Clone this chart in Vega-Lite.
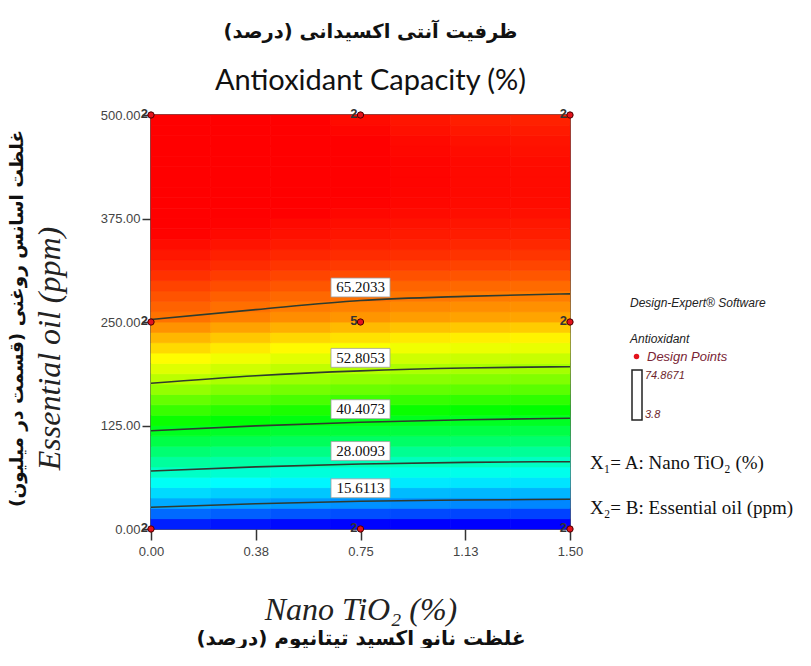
{
  "$schema": "https://vega.github.io/schema/vega-lite/v6.json",
  "width": 419,
  "height": 414,
  "padding": {"left": 6, "top": 21, "right": 0, "bottom": 0},
  "background": "white",
  "title": {
    "text": "ظرفیت آنتی اکسیدانی (درصد)",
    "subtitle": "Antioxidant Capacity (%)",
    "anchor": "middle",
    "frame": "group",
    "dx": 10,
    "font": "DejaVu Sans",
    "fontSize": 19.5,
    "fontWeight": "bold",
    "color": "#111",
    "subtitleFont": "Lato",
    "subtitleFontSize": 29,
    "subtitleColor": "#111",
    "subtitlePadding": 25,
    "offset": 11
  },
  "config": {"view": {"stroke": "#2a2a2a", "strokeWidth": 1.5}, "axis": {"grid": false}},
  "datasets": {
    "grid": [
      {"a":0.11,"b":6.25,"v":6.1},{"a":0.32,"b":6.25,"v":5.3},{"a":0.54,"b":6.25,"v":4.5},{"a":0.75,"b":6.25,"v":4.0},{"a":0.96,"b":6.25,"v":3.6},{"a":1.18,"b":6.25,"v":3.3},{"a":1.39,"b":6.25,"v":3.1},
      {"a":0.11,"b":18.75,"v":11.8},{"a":0.32,"b":18.75,"v":11.0},{"a":0.54,"b":18.75,"v":10.2},{"a":0.75,"b":18.75,"v":9.7},{"a":0.96,"b":18.75,"v":9.3},{"a":1.18,"b":18.75,"v":9.0},{"a":1.39,"b":18.75,"v":8.8},
      {"a":0.11,"b":31.25,"v":16.7},{"a":0.32,"b":31.25,"v":15.9},{"a":0.54,"b":31.25,"v":15.3},{"a":0.75,"b":31.25,"v":14.8},{"a":0.96,"b":31.25,"v":14.4},{"a":1.18,"b":31.25,"v":14.1},{"a":1.39,"b":31.25,"v":14.0},
      {"a":0.11,"b":43.75,"v":20.2},{"a":0.32,"b":43.75,"v":19.4},{"a":0.54,"b":43.75,"v":18.8},{"a":0.75,"b":43.75,"v":18.3},{"a":0.96,"b":43.75,"v":17.9},{"a":1.18,"b":43.75,"v":17.6},{"a":1.39,"b":43.75,"v":17.5},
      {"a":0.11,"b":56.25,"v":23.7},{"a":0.32,"b":56.25,"v":22.9},{"a":0.54,"b":56.25,"v":22.3},{"a":0.75,"b":56.25,"v":21.8},{"a":0.96,"b":56.25,"v":21.4},{"a":1.18,"b":56.25,"v":21.1},{"a":1.39,"b":56.25,"v":21.0},
      {"a":0.11,"b":68.75,"v":27.2},{"a":0.32,"b":68.75,"v":26.4},{"a":0.54,"b":68.75,"v":25.7},{"a":0.75,"b":68.75,"v":25.2},{"a":0.96,"b":68.75,"v":24.8},{"a":1.18,"b":68.75,"v":24.5},{"a":1.39,"b":68.75,"v":24.4},
      {"a":0.11,"b":81.25,"v":30.3},{"a":0.32,"b":81.25,"v":29.6},{"a":0.54,"b":81.25,"v":28.9},{"a":0.75,"b":81.25,"v":28.3},{"a":0.96,"b":81.25,"v":27.9},{"a":1.18,"b":81.25,"v":27.7},{"a":1.39,"b":81.25,"v":27.5},
      {"a":0.11,"b":93.75,"v":33.5},{"a":0.32,"b":93.75,"v":32.7},{"a":0.54,"b":93.75,"v":32.1},{"a":0.75,"b":93.75,"v":31.5},{"a":0.96,"b":93.75,"v":31.1},{"a":1.18,"b":93.75,"v":30.8},{"a":1.39,"b":93.75,"v":30.7},
      {"a":0.11,"b":106.25,"v":36.7},{"a":0.32,"b":106.25,"v":36.0},{"a":0.54,"b":106.25,"v":35.3},{"a":0.75,"b":106.25,"v":34.7},{"a":0.96,"b":106.25,"v":34.3},{"a":1.18,"b":106.25,"v":34.1},{"a":1.39,"b":106.25,"v":33.9},
      {"a":0.11,"b":118.75,"v":39.8},{"a":0.32,"b":118.75,"v":39.0},{"a":0.54,"b":118.75,"v":38.2},{"a":0.75,"b":118.75,"v":37.7},{"a":0.96,"b":118.75,"v":37.3},{"a":1.18,"b":118.75,"v":37.0},{"a":1.39,"b":118.75,"v":36.8},
      {"a":0.11,"b":131.25,"v":42.6},{"a":0.32,"b":131.25,"v":41.7},{"a":0.54,"b":131.25,"v":40.9},{"a":0.75,"b":131.25,"v":40.3},{"a":0.96,"b":131.25,"v":39.8},{"a":1.18,"b":131.25,"v":39.5},{"a":1.39,"b":131.25,"v":39.3},
      {"a":0.11,"b":143.75,"v":45.3},{"a":0.32,"b":143.75,"v":44.4},{"a":0.54,"b":143.75,"v":43.6},{"a":0.75,"b":143.75,"v":43.0},{"a":0.96,"b":143.75,"v":42.5},{"a":1.18,"b":143.75,"v":42.2},{"a":1.39,"b":143.75,"v":42.0},
      {"a":0.11,"b":156.25,"v":48.0},{"a":0.32,"b":156.25,"v":47.1},{"a":0.54,"b":156.25,"v":46.3},{"a":0.75,"b":156.25,"v":45.7},{"a":0.96,"b":156.25,"v":45.2},{"a":1.18,"b":156.25,"v":44.9},{"a":1.39,"b":156.25,"v":44.7},
      {"a":0.11,"b":168.75,"v":50.7},{"a":0.32,"b":168.75,"v":49.7},{"a":0.54,"b":168.75,"v":48.9},{"a":0.75,"b":168.75,"v":48.3},{"a":0.96,"b":168.75,"v":47.8},{"a":1.18,"b":168.75,"v":47.5},{"a":1.39,"b":168.75,"v":47.3},
      {"a":0.11,"b":181.25,"v":53.0},{"a":0.32,"b":181.25,"v":52.1},{"a":0.54,"b":181.25,"v":51.2},{"a":0.75,"b":181.25,"v":50.6},{"a":0.96,"b":181.25,"v":50.1},{"a":1.18,"b":181.25,"v":49.8},{"a":1.39,"b":181.25,"v":49.6},
      {"a":0.11,"b":193.75,"v":55.1},{"a":0.32,"b":193.75,"v":54.2},{"a":0.54,"b":193.75,"v":53.3},{"a":0.75,"b":193.75,"v":52.7},{"a":0.96,"b":193.75,"v":52.2},{"a":1.18,"b":193.75,"v":51.9},{"a":1.39,"b":193.75,"v":51.7},
      {"a":0.11,"b":206.25,"v":57.1},{"a":0.32,"b":206.25,"v":56.2},{"a":0.54,"b":206.25,"v":55.3},{"a":0.75,"b":206.25,"v":54.7},{"a":0.96,"b":206.25,"v":54.2},{"a":1.18,"b":206.25,"v":53.9},{"a":1.39,"b":206.25,"v":53.7},
      {"a":0.11,"b":218.75,"v":59.1},{"a":0.32,"b":218.75,"v":58.2},{"a":0.54,"b":218.75,"v":57.3},{"a":0.75,"b":218.75,"v":56.7},{"a":0.96,"b":218.75,"v":56.2},{"a":1.18,"b":218.75,"v":55.9},{"a":1.39,"b":218.75,"v":55.7},
      {"a":0.11,"b":231.25,"v":61.1},{"a":0.32,"b":231.25,"v":60.2},{"a":0.54,"b":231.25,"v":59.3},{"a":0.75,"b":231.25,"v":58.7},{"a":0.96,"b":231.25,"v":58.2},{"a":1.18,"b":231.25,"v":57.9},{"a":1.39,"b":231.25,"v":57.7},
      {"a":0.11,"b":243.75,"v":63.2},{"a":0.32,"b":243.75,"v":62.3},{"a":0.54,"b":243.75,"v":61.5},{"a":0.75,"b":243.75,"v":60.9},{"a":0.96,"b":243.75,"v":60.4},{"a":1.18,"b":243.75,"v":60.1},{"a":1.39,"b":243.75,"v":59.9},
      {"a":0.11,"b":256.25,"v":65.0},{"a":0.32,"b":256.25,"v":64.2},{"a":0.54,"b":256.25,"v":63.5},{"a":0.75,"b":256.25,"v":63.0},{"a":0.96,"b":256.25,"v":62.6},{"a":1.18,"b":256.25,"v":62.3},{"a":1.39,"b":256.25,"v":62.2},
      {"a":0.11,"b":268.75,"v":65.9},{"a":0.32,"b":268.75,"v":65.2},{"a":0.54,"b":268.75,"v":64.5},{"a":0.75,"b":268.75,"v":64.1},{"a":0.96,"b":268.75,"v":63.7},{"a":1.18,"b":268.75,"v":63.4},{"a":1.39,"b":268.75,"v":63.3},
      {"a":0.11,"b":281.25,"v":66.8},{"a":0.32,"b":281.25,"v":66.1},{"a":0.54,"b":281.25,"v":65.6},{"a":0.75,"b":281.25,"v":65.1},{"a":0.96,"b":281.25,"v":64.8},{"a":1.18,"b":281.25,"v":64.5},{"a":1.39,"b":281.25,"v":64.4},
      {"a":0.11,"b":293.75,"v":67.7},{"a":0.32,"b":293.75,"v":67.1},{"a":0.54,"b":293.75,"v":66.6},{"a":0.75,"b":293.75,"v":66.2},{"a":0.96,"b":293.75,"v":65.8},{"a":1.18,"b":293.75,"v":65.6},{"a":1.39,"b":293.75,"v":65.5},
      {"a":0.11,"b":306.25,"v":68.7},{"a":0.32,"b":306.25,"v":68.1},{"a":0.54,"b":306.25,"v":67.6},{"a":0.75,"b":306.25,"v":67.2},{"a":0.96,"b":306.25,"v":66.9},{"a":1.18,"b":306.25,"v":66.7},{"a":1.39,"b":306.25,"v":66.6},
      {"a":0.11,"b":318.75,"v":69.5},{"a":0.32,"b":318.75,"v":69.0},{"a":0.54,"b":318.75,"v":68.5},{"a":0.75,"b":318.75,"v":68.2},{"a":0.96,"b":318.75,"v":67.9},{"a":1.18,"b":318.75,"v":67.7},{"a":1.39,"b":318.75,"v":67.6},
      {"a":0.11,"b":331.25,"v":70.2},{"a":0.32,"b":331.25,"v":69.7},{"a":0.54,"b":331.25,"v":69.3},{"a":0.75,"b":331.25,"v":69.0},{"a":0.96,"b":331.25,"v":68.8},{"a":1.18,"b":331.25,"v":68.6},{"a":1.39,"b":331.25,"v":68.5},
      {"a":0.11,"b":343.75,"v":70.8},{"a":0.32,"b":343.75,"v":70.4},{"a":0.54,"b":343.75,"v":70.0},{"a":0.75,"b":343.75,"v":69.7},{"a":0.96,"b":343.75,"v":69.5},{"a":1.18,"b":343.75,"v":69.3},{"a":1.39,"b":343.75,"v":69.2},
      {"a":0.11,"b":356.25,"v":71.4},{"a":0.32,"b":356.25,"v":71.0},{"a":0.54,"b":356.25,"v":70.6},{"a":0.75,"b":356.25,"v":70.3},{"a":0.96,"b":356.25,"v":70.0},{"a":1.18,"b":356.25,"v":69.9},{"a":1.39,"b":356.25,"v":69.8},
      {"a":0.11,"b":368.75,"v":71.9},{"a":0.32,"b":368.75,"v":71.4},{"a":0.54,"b":368.75,"v":71.0},{"a":0.75,"b":368.75,"v":70.7},{"a":0.96,"b":368.75,"v":70.5},{"a":1.18,"b":368.75,"v":70.3},{"a":1.39,"b":368.75,"v":70.2},
      {"a":0.11,"b":381.25,"v":72.4},{"a":0.32,"b":381.25,"v":71.9},{"a":0.54,"b":381.25,"v":71.5},{"a":0.75,"b":381.25,"v":71.1},{"a":0.96,"b":381.25,"v":70.9},{"a":1.18,"b":381.25,"v":70.7},{"a":1.39,"b":381.25,"v":70.6},
      {"a":0.11,"b":393.75,"v":72.8},{"a":0.32,"b":393.75,"v":72.2},{"a":0.54,"b":393.75,"v":71.7},{"a":0.75,"b":393.75,"v":71.4},{"a":0.96,"b":393.75,"v":71.1},{"a":1.18,"b":393.75,"v":70.9},{"a":1.39,"b":393.75,"v":70.8},
      {"a":0.11,"b":406.25,"v":73.1},{"a":0.32,"b":406.25,"v":72.5},{"a":0.54,"b":406.25,"v":72.0},{"a":0.75,"b":406.25,"v":71.6},{"a":0.96,"b":406.25,"v":71.2},{"a":1.18,"b":406.25,"v":71.0},{"a":1.39,"b":406.25,"v":70.9},
      {"a":0.11,"b":418.75,"v":73.4},{"a":0.32,"b":418.75,"v":72.7},{"a":0.54,"b":418.75,"v":72.1},{"a":0.75,"b":418.75,"v":71.6},{"a":0.96,"b":418.75,"v":71.3},{"a":1.18,"b":418.75,"v":71.0},{"a":1.39,"b":418.75,"v":70.9},
      {"a":0.11,"b":431.25,"v":73.7},{"a":0.32,"b":431.25,"v":72.9},{"a":0.54,"b":431.25,"v":72.2},{"a":0.75,"b":431.25,"v":71.7},{"a":0.96,"b":431.25,"v":71.3},{"a":1.18,"b":431.25,"v":71.0},{"a":1.39,"b":431.25,"v":70.9},
      {"a":0.11,"b":443.75,"v":73.8},{"a":0.32,"b":443.75,"v":73.0},{"a":0.54,"b":443.75,"v":72.2},{"a":0.75,"b":443.75,"v":71.7},{"a":0.96,"b":443.75,"v":71.3},{"a":1.18,"b":443.75,"v":71.0},{"a":1.39,"b":443.75,"v":70.8},
      {"a":0.11,"b":456.25,"v":74.0},{"a":0.32,"b":456.25,"v":73.0},{"a":0.54,"b":456.25,"v":72.2},{"a":0.75,"b":456.25,"v":71.6},{"a":0.96,"b":456.25,"v":71.1},{"a":1.18,"b":456.25,"v":70.8},{"a":1.39,"b":456.25,"v":70.6},
      {"a":0.11,"b":468.75,"v":74.1},{"a":0.32,"b":468.75,"v":73.1},{"a":0.54,"b":468.75,"v":72.2},{"a":0.75,"b":468.75,"v":71.5},{"a":0.96,"b":468.75,"v":71.0},{"a":1.18,"b":468.75,"v":70.6},{"a":1.39,"b":468.75,"v":70.4},
      {"a":0.11,"b":481.25,"v":74.1},{"a":0.32,"b":481.25,"v":73.0},{"a":0.54,"b":481.25,"v":72.0},{"a":0.75,"b":481.25,"v":71.2},{"a":0.96,"b":481.25,"v":70.6},{"a":1.18,"b":481.25,"v":70.2},{"a":1.39,"b":481.25,"v":70.0},
      {"a":0.11,"b":493.75,"v":74.2},{"a":0.32,"b":493.75,"v":72.9},{"a":0.54,"b":493.75,"v":71.8},{"a":0.75,"b":493.75,"v":70.9},{"a":0.96,"b":493.75,"v":70.3},{"a":1.18,"b":493.75,"v":69.8},{"a":1.39,"b":493.75,"v":69.6}
    ],
    "contours": [
      {"level":65.2033,"a":0,"b":253},{"level":65.2033,"a":0.375,"b":265},{"level":65.2033,"a":0.75,"b":276},{"level":65.2033,"a":1.125,"b":281},{"level":65.2033,"a":1.5,"b":284},
      {"level":52.8053,"a":0,"b":176},{"level":52.8053,"a":0.375,"b":185},{"level":52.8053,"a":0.75,"b":191},{"level":52.8053,"a":1.125,"b":194.5},{"level":52.8053,"a":1.5,"b":196},
      {"level":40.4073,"a":0,"b":118.7},{"level":40.4073,"a":0.375,"b":124.5},{"level":40.4073,"a":0.75,"b":129},{"level":40.4073,"a":1.125,"b":132},{"level":40.4073,"a":1.5,"b":133.7},
      {"level":28.0093,"a":0,"b":70},{"level":28.0093,"a":0.375,"b":75},{"level":28.0093,"a":0.75,"b":78.5},{"level":28.0093,"a":1.125,"b":80.5},{"level":28.0093,"a":1.5,"b":81.3},
      {"level":15.6113,"a":0,"b":26.2},{"level":15.6113,"a":0.375,"b":30.5},{"level":15.6113,"a":0.75,"b":33.5},{"level":15.6113,"a":1.125,"b":35},{"level":15.6113,"a":1.5,"b":35.9}
    ],
    "points": [
      {"a":0,"b":0,"n":2},{"a":0.75,"b":0,"n":2},{"a":1.5,"b":0,"n":2},
      {"a":0,"b":250,"n":2},{"a":0.75,"b":250,"n":5},{"a":1.5,"b":250,"n":2},
      {"a":0,"b":500,"n":2},{"a":0.75,"b":500,"n":2},{"a":1.5,"b":500,"n":2}
    ],
    "factors": [
      {"factor":"X₁= A: Nano TiO₂ (%)"},
      {"factor":"X₂= B: Essential oil (ppm)"}
    ]
  },
  "layer": [
    {
      "data": {"name": "grid"},
      "mark": {"type": "rect", "strokeWidth": 0.8},
      "encoding": {
        "x": {"field": "a", "type": "ordinal", "scale": {"paddingInner": 0, "paddingOuter": 0},
          "axis": {"orient": "bottom", "labels": false, "ticks": false, "domain": false,
            "title": "غلظت نانو اکسید تیتانیوم (درصد)", "titleFont": "DejaVu Sans", "titleFontSize": 20,
            "titleFontWeight": "bold", "titleColor": "#111", "titleY": 109, "titleBaseline": "middle"}},
        "y": {"field": "b", "type": "ordinal", "sort": "descending", "scale": {"paddingInner": 0, "paddingOuter": 0},
          "axis": {"orient": "left", "labels": false, "ticks": false, "domain": false,
            "title": "غلظت اسانس روغنی (قسمت در میلیون)", "titleFont": "DejaVu Sans", "titleFontSize": 18.5,
            "titleFontWeight": "bold", "titleColor": "#111", "titleX": -135, "titleY": 203,
            "titleBaseline": "middle", "titleAngle": -90}},
        "color": {"field": "v", "type": "quantitative",
          "scale": {"domain": [3.8, 23, 42, 57, 71.5, 74.8671],
            "range": ["#0000ff", "#00ffff", "#00ff00", "#ffff00", "#ff0000", "#ff0000"],
            "clamp": true, "interpolate": "rgb"},
          "legend": null},
        "stroke": {"field": "v", "type": "quantitative",
          "scale": {"domain": [3.8, 23, 42, 57, 71.5, 74.8671],
            "range": ["#0000ff", "#00ffff", "#00ff00", "#ffff00", "#ff0000", "#ff0000"],
            "clamp": true, "interpolate": "rgb"},
          "legend": null}
      }
    },
    {
      "layer": [
        {
          "data": {"name": "contours"},
          "mark": {"type": "line", "interpolate": "monotone", "color": "#2f3b2f", "strokeWidth": 1.6},
          "encoding": {
            "x": {"field": "a", "type": "quantitative", "scale": {"domain": [0, 1.5], "nice": false, "zero": false},
              "axis": {"orient": "bottom", "values": [0, 0.375, 0.75, 1.125, 1.5], "format": ".2f", "domain": false,
                "tickSize": 11, "tickColor": "#333", "tickWidth": 1.5, "labelFont": "Liberation Sans", "labelFontSize": 13,
                "labelColor": "#444", "labelPadding": 5, "labelFlush": false,
                "title": "Nano TiO₂ (%)", "titleFont": "Liberation Serif", "titleFontStyle": "italic",
                "titleFontWeight": "normal", "titleFontSize": 32, "titleColor": "#222", "titleY": 80, "titleBaseline": "middle"}},
            "y": {"field": "b", "type": "quantitative", "scale": {"domain": [0, 500], "nice": false},
              "axis": {"orient": "left", "values": [0, 125, 250, 375, 500], "format": ".2f", "domain": false,
                "tickSize": 9, "tickColor": "#333", "tickWidth": 1.5, "labelFont": "Liberation Sans", "labelFontSize": 13,
                "labelColor": "#444", "labelPadding": 2, "labelFlush": false,
                "title": "Essential oil (ppm)", "titleFont": "Liberation Serif", "titleFontStyle": "italic",
                "titleFontWeight": "normal", "titleFontSize": 32, "titleColor": "#222", "titleX": -102, "titleY": 233,
                "titleBaseline": "middle", "titleAngle": -90}},
            "detail": {"field": "level", "type": "nominal"}
          }
        },
        {
          "data": {"name": "contours"},
          "transform": [{"filter": "datum.a == 0.75"}],
          "mark": {"type": "point", "shape": "M-1,-0.32H1V0.32H-1Z", "size": 3481, "filled": true, "fill": "white",
            "opacity": 1, "stroke": "#a0a0a0", "strokeWidth": 0.8, "yOffset": -13},
          "encoding": {
            "x": {"field": "a", "type": "quantitative"},
            "y": {"field": "b", "type": "quantitative"}
          }
        },
        {
          "data": {"name": "contours"},
          "transform": [{"filter": "datum.a == 0.75"}],
          "mark": {"type": "text", "font": "Liberation Serif", "fontSize": 15, "color": "#111", "dy": -13, "baseline": "middle"},
          "encoding": {
            "x": {"field": "a", "type": "quantitative"},
            "y": {"field": "b", "type": "quantitative"},
            "text": {"field": "level", "type": "quantitative", "format": ".4f"}
          }
        },
        {
          "data": {"name": "points"},
          "mark": {"type": "point", "filled": true, "size": 40, "stroke": "#4a0000", "strokeWidth": 1, "opacity": 1, "clip": false},
          "encoding": {
            "x": {"field": "a", "type": "quantitative"},
            "y": {"field": "b", "type": "quantitative"},
            "fill": {"datum": "Design Points", "type": "nominal", "scale": {"range": ["#e3121b"]},
              "legend": {"orient": "none", "legendX": 479, "legendY": 183,
                "title": ["Design-Expert® Software", "Antioxidant"],
                "titleFont": "Liberation Sans", "titleFontStyle": "italic", "titleFontWeight": "normal",
                "titleFontSize": 12, "titleColor": "#222", "titleLineHeight": 36, "titlePadding": 4,
                "labelFont": "Liberation Sans", "labelFontStyle": "italic", "labelFontSize": 13, "labelColor": "#7a2535",
                "symbolType": "circle", "symbolSize": 30, "symbolStrokeWidth": 0, "padding": 0}}
          }
        },
        {
          "data": {"name": "points"},
          "mark": {"type": "text", "align": "right", "dx": -3, "dy": -1, "font": "Liberation Sans", "fontWeight": "bold",
            "fontSize": 13, "color": "#333", "baseline": "middle"},
          "encoding": {
            "x": {"field": "a", "type": "quantitative"},
            "y": {"field": "b", "type": "quantitative"},
            "text": {"field": "n", "type": "quantitative"}
          }
        },
        {
          "data": {"name": "points"},
          "mark": {"type": "point", "opacity": 0, "size": 0},
          "encoding": {
            "x": {"field": "a", "type": "quantitative"},
            "y": {"field": "b", "type": "quantitative"},
            "stroke": {"field": "n", "type": "quantitative",
              "scale": {"domain": [3.8, 74.8671], "range": ["#ffffff", "#ffffff"]},
              "legend": {"orient": "none", "legendX": 481, "legendY": 255, "direction": "vertical", "title": null,
                "gradientLength": 50, "gradientThickness": 10,
                "gradientStrokeColor": "#222", "gradientStrokeWidth": 1.5,
                "values": [3.8, 74.8671], "labelExpr": "datum.value > 10 ? '74.8671' : '3.8'",
                "labelFont": "Liberation Sans", "labelFontStyle": "italic", "labelFontSize": 11,
                "labelColor": "#6e1f2b", "labelOffset": 3, "padding": 0}}
          }
        },
        {
          "data": {"name": "factors"},
          "mark": {"type": "point", "opacity": 0, "size": 0},
          "encoding": {
            "shape": {"field": "factor", "type": "nominal", "sort": null,
              "legend": {"orient": "none", "legendX": 420, "legendY": 338, "title": null,
                "labelFont": "Liberation Serif", "labelFontSize": 19, "labelColor": "#111",
                "symbolSize": 0, "symbolOpacity": 0, "symbolStrokeWidth": 0, "labelOffset": 0,
                "rowPadding": 25, "padding": 0, "labelLimit": 400}}
          }
        }
      ]
    }
  ],
  "resolve": {"scale": {"x": "independent", "y": "independent", "stroke": "independent"}}
}
